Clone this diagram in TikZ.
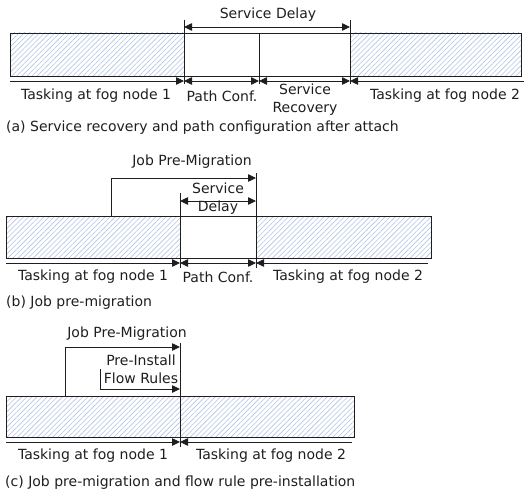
\documentclass[tikz,border=0pt]{standalone}
\usepackage{fontspec}
\setmainfont{DejaVu Sans}
\usetikzlibrary{patterns.meta,arrows.meta}
\definecolor{hatchblue}{RGB}{178,195,228}
\definecolor{ink}{RGB}{30,30,30}

\begin{document}
\begin{tikzpicture}[x = 1pt, y = -1pt, font = \fontsize{14}{18}\selectfont, text = ink]
    \tikzstyle{hatch} = [draw = ink, line width = .8pt, pattern = {Lines[angle = 45, distance = 3.6pt, line width = .6pt]}, pattern color = hatchblue];
    \tikzstyle{blank} = [draw = ink, line width = .8pt, fill = white];
    \tikzstyle{tick} = [draw = ink, line width = .8pt];
    \tikzstyle{dim} = [draw = ink, line width = .8pt, >={Triangle[length = 8pt, width = 7.5pt]}];
    \tikzstyle{lbl} = [inner sep = 0pt, align = center];
    \useasboundingbox (0,0) rectangle (524,495);

    % (a) points:
    \coordinate (aL) at (10,33);   \coordinate (aR) at (521,76);
    \coordinate (a1) at (184,33);  \coordinate (a2) at (259,33);  \coordinate (a3) at (350,33);
    \draw[hatch] (aL) rectangle (184,76);
    \draw[blank] (a1) rectangle (350,76);
    \draw[hatch] (a3) rectangle (aR);
    \draw[tick] (184,20) -- (184,84); \draw[tick] (350,20) -- (350,84);
    \draw[tick] (a2) -- (259,84);
    \coordinate (sdL) at (184,27); \coordinate (sdR) at (350,27);
    \draw[dim, <->] (sdL) -- (sdR);
    \node[lbl] (sd) at (268,15) {Service Delay};
    \coordinate (b0) at (10,81);  \coordinate (b1) at (184,81);
    \coordinate (b2) at (259,81); \coordinate (b3) at (350,81); \coordinate (b4) at (524,81);
    \draw[dim, ->] (b0) -- (b1);
    \draw[dim, <->] (b1) -- (b2);
    \draw[dim, <->] (b2) -- (b3);
    \draw[dim, <-] (b3) -- (b4);
    \node[lbl] (t1) at (96,96) {Tasking at fog node 1};
    \node[lbl] (pc) at (222,96) {Path Conf.};
    \node[lbl] (sr) at (305,100) {Service\\Recovery};
    \node[lbl] (t2) at (445,96) {Tasking at fog node 2};
    \node[lbl, anchor = west] (capa) at (6,128) {(a) Service recovery and path configuration after attach};

    % (b) points:
    \coordinate (bL) at (6,216);   \coordinate (bR) at (431,258);
    \coordinate (c1) at (180,216); \coordinate (c2) at (256,216);
    \draw[hatch] (bL) rectangle (180,258);
    \draw[blank] (c1) rectangle (256,258);
    \draw[hatch] (c2) rectangle (bR);
    \coordinate (jmL) at (111,178); \coordinate (jmR) at (256,178);
    \draw[tick] (jmL) -- (111,216);
    \draw[tick] (256,173) -- (256,268);
    \draw[tick] (180,193) -- (180,268);
    \draw[dim, ->] (jmL) -- (jmR);
    \node[lbl] (jm) at (192,162) {Job Pre-Migration};
    \coordinate (dL) at (180,201); \coordinate (dR) at (256,201);
    \draw[dim, <->] (dL) -- (dR);
    \node[lbl] (sd2) at (218,199) {Service\\Delay};
    \coordinate (e0) at (6,263);   \coordinate (e1) at (180,263);
    \coordinate (e2) at (256,263); \coordinate (e3) at (428,263);
    \draw[dim, ->] (e0) -- (e1);
    \draw[dim, <->] (e1) -- (e2);
    \draw[dim, <-] (e2) -- (e3);
    \node[lbl] (t1b) at (93,277) {Tasking at fog node 1};
    \node[lbl] (pcb) at (218,277) {Path Conf.};
    \node[lbl] (t2b) at (348,277) {Tasking at fog node 2};
    \node[lbl, anchor = west] (capb) at (6,303) {(b) Job pre-migration};

    % (c) points:
    \coordinate (cL) at (6,396);   \coordinate (cR) at (354,437);
    \coordinate (d1) at (180,396);
    \draw[hatch] (cL) rectangle (180,437);
    \draw[hatch] (d1) rectangle (cR);
    \coordinate (pmL) at (65,347);  \coordinate (pmR) at (180,347);
    \coordinate (fiL) at (100,389); \coordinate (fiR) at (180,389);
    \draw[tick] (pmL) -- (65,396);
    \draw[tick] (100,369) -- (fiL);
    \draw[tick] (180,343) -- (180,447);
    \draw[dim, ->] (pmL) -- (pmR);
    \draw[dim, ->] (fiL) -- (fiR);
    \node[lbl] (pm) at (127,334) {Job Pre-Migration};
    \node[lbl] (fi) at (141,369) {Pre-Install\\Flow Rules};
    \coordinate (f0) at (6,442); \coordinate (f1) at (180,442); \coordinate (f2) at (352,442);
    \draw[dim, ->] (f0) -- (f1);
    \draw[dim, <-] (f1) -- (f2);
    \node[lbl] (t1c) at (93,456) {Tasking at fog node 1};
    \node[lbl] (t2c) at (271,456) {Tasking at fog node 2};
    \node[lbl, anchor = west] (capc) at (5,483) {(c) Job pre-migration and flow rule pre-installation};
\end{tikzpicture}
\end{document}
